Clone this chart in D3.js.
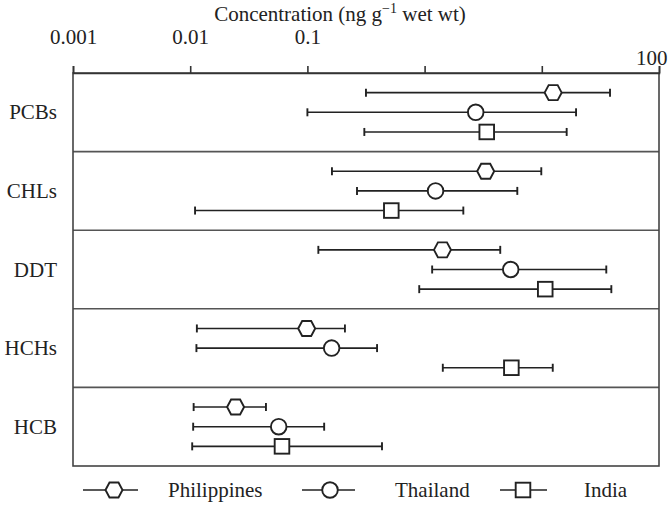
<!DOCTYPE html>
<html>
<head>
<meta charset="utf-8">
<script src="https://cdn.jsdelivr.net/npm/d3@7"></script>
<style>
  body { margin: 0; background: #fff; }
</style>
</head>
<body>
<svg id="chart" width="669" height="505"></svg>
<script>
var compounds = ['PCBs', 'CHLs', 'DDT', 'HCHs', 'HCB'];
var countries = ['Philippines', 'Thailand', 'India'];
var tickValues = [0.001, 0.01, 0.1, 1, 10, 100];
var tickLabels = ['0.001', '0.01', '0.1', '', '', '100'];

// [min, mean, max] per compound, one array per country
var philippines = [[0.316, 12.5, 38.2], [0.162, 3.32, 9.9], [0.124, 1.42, 4.42], [0.0114, 0.0986, 0.209], [0.0107, 0.0244, 0.0443]];
var thailand = [[0.1, 2.73, 19.6], [0.265, 1.24, 6.18], [1.16, 5.43, 35.5], [0.0113, 0.161, 0.393], [0.0106, 0.0569, 0.139]];
var india = [[0.306, 3.39, 16.3], [0.011, 0.52, 2.14], [0.9, 10.7, 39.2], [1.43, 5.5, 12.4], [0.0104, 0.0607, 0.433]];

var seriesValues = [philippines, thailand, india];

var font = '"Liberation Serif", "Times New Roman", serif';
var fontSize = 21;

var margin = { top: 73, left: 73, right: 10, bottom: 39 };
var width = 669 - margin.left - margin.right;
var height = 505 - margin.top - margin.bottom;

var svg = d3.select('#chart');
var g = svg.append('g')
    .attr('transform', 'translate(' + margin.left + ',' + margin.top + ')');

var x = d3.scaleLog()
    .domain([0.001, 100])
    .range([0, width]);

var y = d3.scaleBand()
    .domain(compounds)
    .range([0, height]);

var yInner = d3.scalePoint()
    .domain(countries)
    .range([0, y.bandwidth()])
    .padding(1);

// band dividers
g.selectAll('.divider')
    .data(compounds.slice(1))
    .enter()
    .append('line')
    .attr('x1', 0)
    .attr('x2', width)
    .attr('y1', function(d) { return y(d); })
    .attr('y2', function(d) { return y(d); })
    .attr('stroke', '#555')
    .attr('stroke-width', 1.6);

// frame
g.append('rect')
    .attr('width', width)
    .attr('height', height)
    .attr('fill', 'none')
    .attr('stroke', '#444')
    .attr('stroke-width', 1.6);

// top axis
var axis = d3.axisTop(x)
    .tickValues(tickValues)
    .tickSize(7)
    .tickFormat(function(d, i) { return tickLabels[i]; });

var ax = g.append('g').call(axis);
ax.select('.domain').attr('stroke', '#333').attr('stroke-width', 1.6);
ax.selectAll('.tick line').attr('stroke', '#333').attr('stroke-width', 1.6);
ax.selectAll('.tick text')
    .style('font-family', font)
    .style('font-size', fontSize + 'px')
    .attr('fill', '#222')
    .attr('dy', null)
    .attr('y', -29);
ax.selectAll('.tick text')
    .filter(function(d) { return d === 100; })
    .attr('y', -8)
    .attr('text-anchor', 'end')
    .attr('x', 8);

// title
var title = svg.append('text')
    .attr('x', 340)
    .attr('y', 21)
    .attr('text-anchor', 'middle')
    .attr('fill', '#222')
    .style('font-family', font)
    .style('font-size', fontSize + 'px');
title.append('tspan').text('Concentration (ng g');
title.append('tspan').style('font-size', '14px').attr('dy', -8).text('\u22121');
title.append('tspan').attr('dy', 8).text(' wet wt)');

// category labels
svg.selectAll('.cat')
    .data(compounds)
    .enter()
    .append('text')
    .attr('x', margin.left - 16)
    .attr('y', function(d) { return margin.top + y(d) + y.bandwidth() / 2 + 7; })
    .attr('text-anchor', 'end')
    .attr('fill', '#222')
    .style('font-family', font)
    .style('font-size', fontSize + 'px')
    .text(function(d) { return d; });

// marker shapes
function drawMarker(sel, type) {
    if (type === 0) {
        sel.append('polygon')
            .attr('points', '-8.5,0 -4.5,-7.5 4.5,-7.5 8.5,0 4.5,7.5 -4.5,7.5');
    } else if (type === 1) {
        sel.append('circle').attr('r', 7.8);
    } else {
        sel.append('rect').attr('x', -7.3).attr('y', -7.3).attr('width', 14.6).attr('height', 14.6);
    }
    sel.selectAll('polygon, circle, rect')
        .attr('fill', '#fff')
        .attr('stroke', '#222')
        .attr('stroke-width', 1.9);
}

seriesValues.forEach(function(series, si) {
    var rows = g.selectAll('.row-' + si)
        .data(series)
        .enter()
        .append('g')
        .attr('transform', function(d, i) {
            return 'translate(0,' + (y(compounds[i]) + yInner(countries[si])) + ')';
        });

    rows.append('line')
        .attr('x1', function(d) { return x(d[0]); })
        .attr('x2', function(d) { return x(d[2]); })
        .attr('stroke', '#222')
        .attr('stroke-width', 1.6);

    [0, 2].forEach(function(k) {
        rows.append('line')
            .attr('x1', function(d) { return x(d[k]); })
            .attr('x2', function(d) { return x(d[k]); })
            .attr('y1', -4)
            .attr('y2', 4)
            .attr('stroke', '#222')
            .attr('stroke-width', 1.9);
    });

    rows.each(function(d) {
        var m = d3.select(this).append('g')
            .attr('transform', 'translate(' + x(d[1]) + ',0)');
        drawMarker(m, si);
    });
});

// legend: line start, line end, marker centre, text start
var legendX = [[83, 138, 114, 168], [302, 355, 330, 395], [500, 547, 523, 584]];
var legendY = 490;

countries.forEach(function(c, i) {
    var pos = legendX[i];
    svg.append('line')
        .attr('x1', pos[0])
        .attr('x2', pos[1])
        .attr('y1', legendY)
        .attr('y2', legendY)
        .attr('stroke', '#222')
        .attr('stroke-width', 1.6);
    var m = svg.append('g').attr('transform', 'translate(' + pos[2] + ',' + legendY + ')');
    drawMarker(m, i);
    svg.append('text')
        .attr('x', pos[3])
        .attr('y', legendY + 7)
        .attr('fill', '#222')
        .style('font-family', font)
        .style('font-size', fontSize + 'px')
        .text(c);
});
</script>
</body>
</html>
